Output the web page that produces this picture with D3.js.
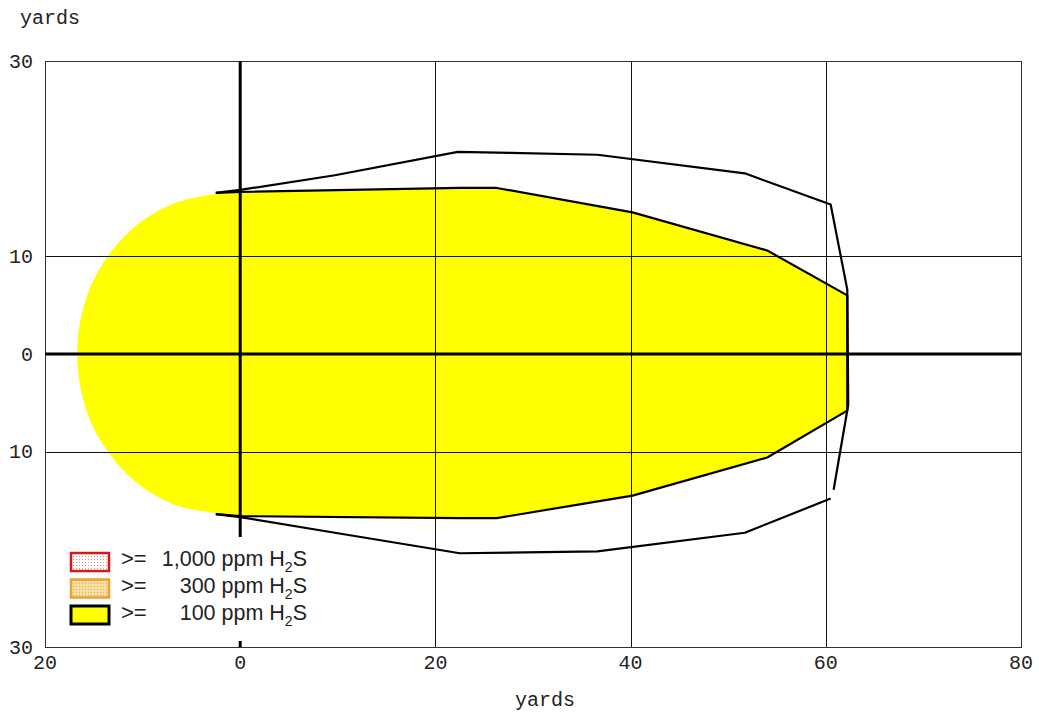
<!DOCTYPE html>
<html>
<head>
<meta charset="utf-8">
<script src="https://cdn.jsdelivr.net/npm/d3@7"></script>
<style>
  html, body { margin: 0; padding: 0; background: #fff; }
  svg { display: block; }
</style>
</head>
<body>
<svg id="chart" width="1039" height="721"></svg>
<script>
// Axis ticks (yards)
const xTicks = [-20, 0, 20, 40, 60, 80];
const yTicks = [-30, -10, 0, 10, 30];

// >= 100 ppm H2S zone: rounded upwind end (top -> bottom)
const capPoints = [
  [-2.3, 16.4], [-6.8, 15.4], [-11.3, 12.6], [-14.7, 8.2], [-16.2, 4.2],
  [-16.7, 0], [-16.2, -4.2], [-14.7, -8.2], [-11.3, -12.6], [-6.8, -15.4], [-2.3, -16.3]
];
// >= 100 ppm zone: upper edge (left -> right)
const plumeTop = [
  [-2.5, 16.5], [0, 16.6], [22.5, 17.0], [26.3, 17.0], [40.2, 14.5], [54.0, 10.6], [62.2, 6.0]
];
// >= 100 ppm zone: lower edge (right -> left)
const plumeBottom = [
  [62.2, -5.8], [54.0, -10.6], [40.2, -14.5], [26.3, -16.8], [22.5, -16.8], [0, -16.6], [-2.5, -16.4]
];
// Outer contour line, upper branch around the downwind end
const outerUpper = [
  [-2.5, 16.5], [0, 16.8], [9.7, 18.3], [22.3, 20.7], [27.7, 20.6], [36.6, 20.4],
  [51.7, 18.5], [60.5, 15.3], [62.2, 6.6], [62.3, -5.2], [60.8, -13.9]
];
// Outer contour line, lower branch
const outerLower = [
  [60.5, -14.8], [51.7, -18.3], [36.6, -20.2], [22.5, -20.4], [9.7, -18.3], [0, -16.7], [-2.5, -16.4]
];

// Legend entries
const legendLevels = ["1,000", "300", "100"];

const svg = d3.select("#chart");
const x = d3.scaleLinear().domain([-20, 80]).range([45, 1021]);
const y = d3.scaleLinear().domain([-30, 30]).range([647, 61]);

const line = d3.line().x(d => x(d[0])).y(d => y(d[1]));
const capLine = d3.line().x(d => x(d[0])).y(d => y(d[1])).curve(d3.curveCatmullRom);

// Yellow zone fill: straight edges plus rounded cap
const edgePath = line(plumeTop.concat(plumeBottom));
const capPath = capLine(capPoints.slice().reverse()).replace(/^M/, "L");
svg.append("path")
  .attr("d", edgePath + capPath + "Z")
  .attr("fill", "#ffff00")
  .attr("stroke", "none");

// Grid lines
const grid = svg.append("g").attr("stroke", "#111").attr("stroke-width", 1);
xTicks.forEach(t => {
  grid.append("line")
    .attr("x1", Math.round(x(t)) + 0.5).attr("x2", Math.round(x(t)) + 0.5)
    .attr("y1", y(30)).attr("y2", y(-30));
});
yTicks.forEach(t => {
  grid.append("line")
    .attr("x1", x(-20)).attr("x2", x(80))
    .attr("y1", Math.round(y(t)) + 0.5).attr("y2", Math.round(y(t)) + 0.5);
});
svg.append("rect")
  .attr("x", x(-20) + 0.5).attr("y", y(30) + 0.5)
  .attr("width", x(80) - x(-20)).attr("height", y(-30) - y(30))
  .attr("fill", "none").attr("stroke", "#333").attr("stroke-width", 1);

// Heavy axes through the source
svg.append("line")
  .attr("x1", x(-20)).attr("x2", x(80)).attr("y1", y(0)).attr("y2", y(0))
  .attr("stroke", "#000").attr("stroke-width", 3);
svg.append("line")
  .attr("x1", x(0)).attr("x2", x(0)).attr("y1", y(30)).attr("y2", y(-30))
  .attr("stroke", "#000").attr("stroke-width", 3);

// Zone outline along straight edges
svg.append("path")
  .attr("d", line(plumeTop.concat(plumeBottom)))
  .attr("fill", "none").attr("stroke", "#000").attr("stroke-width", 2.2)
  .attr("stroke-linejoin", "round");

// Outer contour
[outerUpper, outerLower].forEach(pts => {
  svg.append("path")
    .attr("d", line(pts))
    .attr("fill", "none").attr("stroke", "#000").attr("stroke-width", 2.2)
    .attr("stroke-linejoin", "round");
});

// Legend
const defs = svg.append("defs");
const dotPat = (id, bg, dot) => {
  const p = defs.append("pattern").attr("id", id).attr("patternUnits", "userSpaceOnUse")
    .attr("width", 3).attr("height", 3);
  p.append("rect").attr("width", 3).attr("height", 3).attr("fill", bg);
  p.append("rect").attr("x", 1).attr("y", 1).attr("width", 1).attr("height", 1).attr("fill", dot);
};
dotPat("dotsRed", "#ffffff", "#e89090");
dotPat("dotsOrange", "#f6dfa0", "#e0a850");

svg.append("rect")
  .attr("x", x(-20) + 1).attr("y", 537).attr("width", 290).attr("height", 104)
  .attr("fill", "#fff");

const swatchFill = ["url(#dotsRed)", "url(#dotsOrange)", "#ffff00"];
const swatchStroke = ["#d81818", "#f0a030", "#000"];
const swatchWidth = [2.5, 2.5, 3];
const legend = svg.append("g");
legendLevels.forEach((lvl, i) => {
  const top = 553 + i * 26.5;
  legend.append("rect")
    .attr("x", 71).attr("y", top).attr("width", 38).attr("height", 18)
    .attr("fill", swatchFill[i]).attr("stroke", swatchStroke[i])
    .attr("stroke-width", swatchWidth[i]);
  const base = 566 + i * 27;
  legend.append("text")
    .attr("x", 121).attr("y", base)
    .attr("font-family", "Liberation Sans, Arial, sans-serif")
    .attr("font-size", 22).attr("fill", "#222")
    .text(">=");
  const t = legend.append("text")
    .attr("x", 307).attr("y", base)
    .attr("text-anchor", "end")
    .attr("font-family", "Liberation Sans, Arial, sans-serif")
    .attr("font-size", 21.5).attr("fill", "#222");
  t.append("tspan").text(lvl + " ppm H");
  t.append("tspan").attr("font-size", 14).attr("dy", 6).text("2");
  t.append("tspan").attr("dy", -6).text("S");
});

// Tick labels and axis titles
const mono = "'Courier New', 'Liberation Mono', monospace";
svg.append("g").selectAll("text").data(yTicks).join("text")
  .attr("x", 33).attr("y", d => y(d) + 1)
  .attr("text-anchor", "end").attr("dominant-baseline", "central")
  .attr("font-family", mono).attr("font-size", 20).attr("fill", "#222")
  .text(d => Math.abs(d));
svg.append("g").selectAll("text").data(xTicks).join("text")
  .attr("x", d => x(d)).attr("y", 669)
  .attr("text-anchor", "middle")
  .attr("font-family", mono).attr("font-size", 20).attr("fill", "#222")
  .text(d => Math.abs(d));
svg.append("text")
  .attr("x", 20).attr("y", 24)
  .attr("font-family", mono).attr("font-size", 20).attr("fill", "#222")
  .text("yards");
svg.append("text")
  .attr("x", 515).attr("y", 706)
  .attr("font-family", mono).attr("font-size", 20).attr("fill", "#222")
  .text("yards");
</script>
</body>
</html>
